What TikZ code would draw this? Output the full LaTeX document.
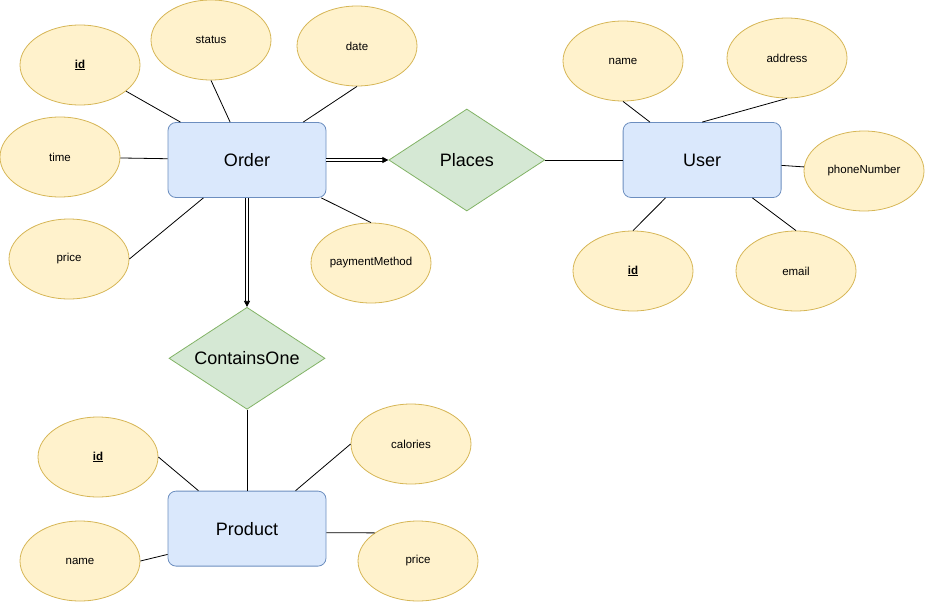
\documentclass[tikz,border=0pt]{standalone}
\usepackage{fontspec}
\setmainfont{Liberation Sans}
\usepackage{xcolor}
\usetikzlibrary{arrows.meta, positioning, shapes.geometric}
\definecolor{attrfill}{HTML}{FFF2CC}
\definecolor{attrdraw}{HTML}{D6B656}
\definecolor{entfill}{HTML}{DAE8FC}
\definecolor{entdraw}{HTML}{6C8EBF}
\definecolor{relfill}{HTML}{D5E8D4}
\definecolor{reldraw}{HTML}{82B366}

\begin{document}
\begin{tikzpicture}[x=1pt,y=-1pt,>={Triangle[length=6pt,width=6pt]},line width=0.8pt]
	\tikzstyle{attr}=[ellipse,fill=attrfill,draw=attrdraw,minimum width=120pt,minimum height=80pt,inner sep=0pt,font=\fontsize{11.5}{13}\selectfont]
	\tikzstyle{entity}=[rectangle,rounded corners=8pt,fill=entfill,draw=entdraw,minimum width=158pt,minimum height=75pt,inner sep=0pt,font=\fontsize{18}{20}\selectfont]
	\tikzstyle{rel}=[diamond,aspect=1.53,fill=relfill,draw=reldraw,minimum width=156pt,minimum height=102pt,inner sep=0pt,font=\fontsize{18}{20}\selectfont]
	\tikzstyle{key}=[double,double distance=2.2pt,line width=0.8pt]
	\useasboundingbox (0,0) rectangle (925,602);
	
	% entities and relations
	\node[entity] (order) at (247,160) {Order};
	\node[rel] (places) [right=62pt of order] {Places};
	\node[entity] (user) [right=77.5pt of places] {User};
	\node[rel] (contains) [below=109pt of order] {ContainsOne};
	\node[entity] (product) [below=81pt of contains] {Product};
	
	% attributes of Order
	\node[attr] (oid) at (80,65) {\underline{\textbf{id}}};
	\node[attr] (status) at (211,40) {status};
	\node[attr] (date) at (357,46) {date};
	\node[attr] (time) at (60,157) {time};
	\node[attr] (oprice) at (69,259) {price};
	\node[attr] (payment) at (371,263) {paymentMethod};
	
	% attributes of User
	\node[attr] (uname) at (623,61) {name};
	\node[attr] (address) at (787,58) {address};
	\node[attr] (phone) at (864,171) {phoneNumber};
	\node[attr] (uid) at (633,271) {\underline{\textbf{id}}};
	\node[attr] (email) at (796,271) {email};
	
	% attributes of Product
	\node[attr] (pid) at (98,457) {\underline{\textbf{id}}};
	\node[attr] (calories) at (411,444) {calories};
	\node[attr] (pname) at (80,561) {name};
	\node[attr] (pprice) at (418,561) {price};
	
	\path (oid) edge (order)
	(status.south) edge (order.114)
	(date.south) edge (order.34)
	(time) edge (order)
	(oprice.east) edge (order.221)
	(payment.north) edge (order.-27)
	(uname.south) edge (user.144)
	(address.south) edge (user.north)
	(phone) edge (user)
	(uid.north) edge (user.226)
	(email.north) edge (user.-37)
	(places) edge (user)
	(contains) edge (product)
	(pid.east) edge (product.142)
	(calories.west) edge (product.38)
	(pname.east) edge (product.198)
	(pprice.147) edge (product.-3);
	
	\draw[key,->] (order.east) -- (places.west);
	\draw[key,->] (order.south) -- (contains.north);
\end{tikzpicture}
\end{document}
